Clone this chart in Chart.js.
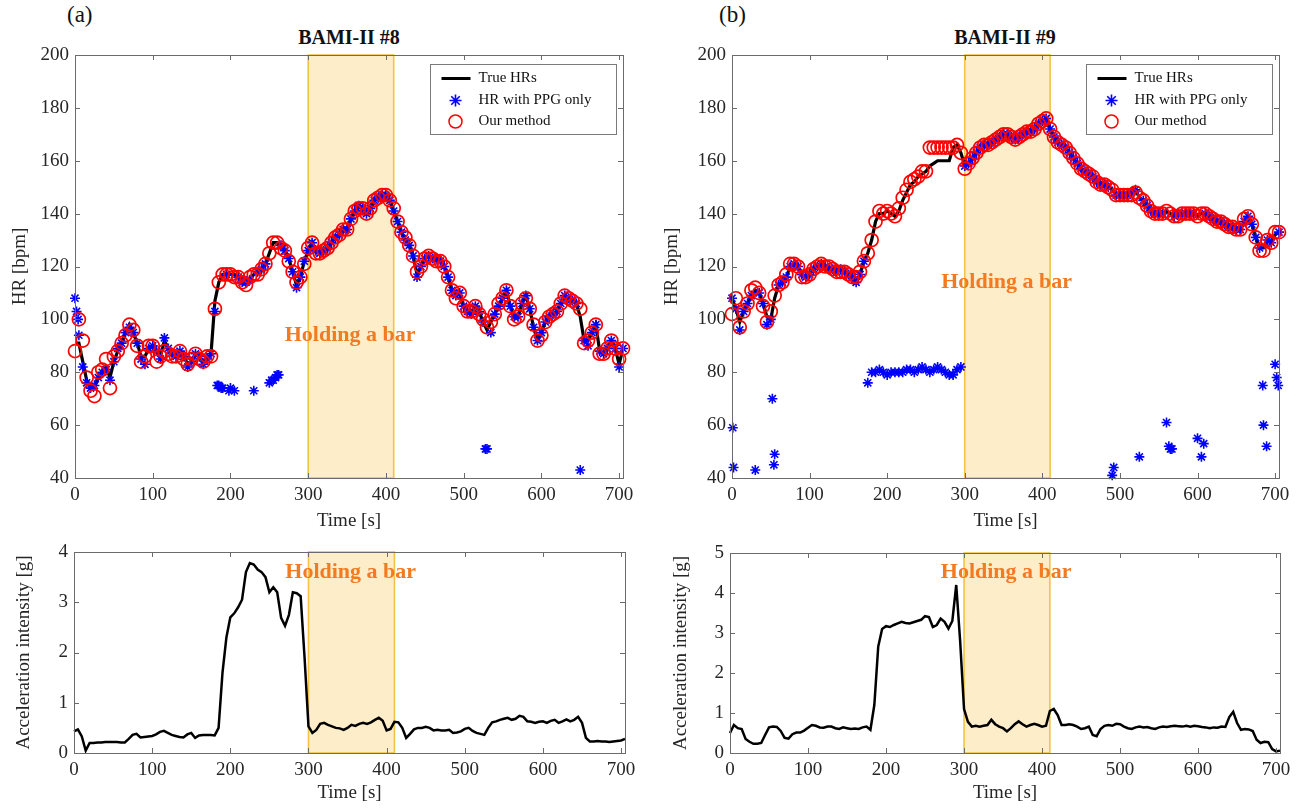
<!DOCTYPE html>
<html>
<head>
<meta charset="utf-8">
<script src="https://cdn.jsdelivr.net/npm/chart.js@4.4.0/dist/chart.umd.min.js"></script>
<style>
  body { margin: 0; background: #fff; width: 1301px; height: 808px; position: relative; overflow: hidden;
         font-family: "Liberation Serif", "Times New Roman", serif; color: #111; }
  canvas { position: absolute; }
  .tag { position: absolute; font-size: 23px; }
  .ttl { position: absolute; font-size: 20px; font-weight: bold; transform: translateX(-50%); white-space: nowrap; }
</style>
</head>
<body>
<div class="tag" style="left:67px;top:2px">(a)</div>
<div class="tag" style="left:719px;top:2px">(b)</div>
<div class="ttl" style="left:349px;top:26px">BAMI-II #8</div>
<div class="ttl" style="left:1005px;top:26px">BAMI-II #9</div>

<canvas id="hrA" width="650" height="533" style="left:0;top:0"></canvas>
<canvas id="hrB" width="651" height="533" style="left:650px;top:0"></canvas>
<canvas id="accA" width="650" height="275" style="left:0;top:533px"></canvas>
<canvas id="accB" width="651" height="275" style="left:650px;top:533px"></canvas>

<script>
// sample times [s], every 5 s
const TIME = [0,5,10,15,20,25,30,35,40,45,50,55,60,65,70,75,80,85,90,95,
  100,105,110,115,120,125,130,135,140,145,150,155,160,165,170,175,180,185,190,195,
  200,205,210,215,220,225,230,235,240,245,250,255,260,265,270,275,280,285,290,295,
  300,305,310,315,320,325,330,335,340,345,350,355,360,365,370,375,380,385,390,395,
  400,405,410,415,420,425,430,435,440,445,450,455,460,465,470,475,480,485,490,495,
  500,505,510,515,520,525,530,535,540,545,550,555,560,565,570,575,580,585,590,595,
  600,605,610,615,620,625,630,635,640,645,650,655,660,665,670,675,680,685,690,695,
  700,705];

const X_TICKS = [0,100,200,300,400,500,600,700];
const HR_TICKS = [40,60,80,100,120,140,160,180,200];
const ACC_TICKS_A = [0,1,2,3,4];
const ACC_TICKS_B = [0,1,2,3,4,5];
const HOLD = [300, 410];

// ---- BAMI-II #8 ----
const trueA = [91,91,84,77,75,74,78,80,82,78, 84,88,91,95,98,95,91,86,86,89,
  90,88,86,92,89,87,86,87,86,83, 84,87,86,84,85,87,107,114,117,117,
  117,117,116,115,114,115,117,118,119,121, 125,129,129,128,126,123,118,113,116,122,
  126,129,126,125,126,127,129,131,132,134, 134,138,141,143,142,140,142,145,146,147,
  147,145,141,137,133,130,128,124,117,120, 123,124,123,123,122,120,116,111,109,110,
  105,103,102,105,103,99,96,99,102,105, 108,111,105,101,101,106,109,104,97,92,
  95,99,101,102,103,106,109,108,107,106, 101,92,92,95,98,88,87,89,92,89,
  83,89];
const ppgA = [108,94,82,76,74,75,78,80,81,77, 84,89,91,95,97,95,91,85,83,89,
  90,88,85,93,89,87,86,88,86,82, 84,87,86,83,85,87,103,75,74,117,
  74,73,116,114,114,115,73,118,119,121, 76,77,79,128,126,123,118,112,116,122,
  126,129,126,125,126,127,129,131,132,134, 134,138,141,143,142,140,142,145,146,147,
  147,145,141,137,133,130,128,124,116,120, 123,124,123,123,122,120,116,111,109,110,
  105,103,102,105,103,99,51,95,102,105, 108,111,105,101,101,106,109,104,97,92,
  95,99,101,102,103,106,109,108,107,106, 43,92,90,95,98,88,87,89,92,89,
  82,89];
const ppgExtraTimeA = [2,4,183,188,198,253,258,262,528];
const ppgExtraHrA = [103,100,75,74,73,77,78,79,51];
const oursA = [88,100,92,78,73,71,80,81,85,74, 86,88,91,94,98,96,90,84,86,90,
  90,84,86,88,87,86,86,88,85,83, 85,87,85,84,86,86,104,114,117,117,
  117,116,116,114,113,116,117,117,119,121, 125,129,129,127,126,122,118,114,116,121,
  127,129,125,125,126,127,129,131,132,134, 134,138,141,142,142,140,142,145,146,147,
  147,145,142,137,133,131,128,124,118,120, 123,124,123,122,122,120,116,111,108,110,
  105,103,103,105,102,100,97,99,102,106, 108,111,105,100,101,106,108,104,98,92,
  94,99,101,102,103,106,109,108,107,106, 104,91,92,95,98,87,87,89,92,89,
  85,89];
const accA = [0.43,0.47,0.33,0.05,0.2,0.2,0.21,0.21,0.22,0.22, 0.22,0.22,0.21,0.21,0.28,0.36,0.38,0.31,0.32,0.33,
  0.34,0.37,0.42,0.44,0.4,0.36,0.34,0.32,0.31,0.37, 0.4,0.3,0.35,0.36,0.36,0.36,0.35,0.5,1.6,2.3,
  2.7,2.78,2.9,3.05,3.6,3.78,3.75,3.65,3.6,3.5, 3.2,3.3,3.2,2.69,2.53,2.75,3.2,3.18,3.12,1.9,
  0.53,0.4,0.46,0.58,0.6,0.56,0.53,0.5,0.49,0.46, 0.5,0.56,0.54,0.58,0.6,0.58,0.61,0.66,0.7,0.64,
  0.45,0.48,0.62,0.61,0.5,0.3,0.38,0.47,0.5,0.5, 0.52,0.5,0.45,0.46,0.45,0.45,0.46,0.4,0.41,0.43,
  0.48,0.5,0.44,0.4,0.38,0.36,0.5,0.61,0.63,0.66, 0.68,0.7,0.66,0.68,0.74,0.72,0.63,0.62,0.6,0.62,
  0.63,0.6,0.64,0.66,0.6,0.63,0.67,0.63,0.66,0.72, 0.6,0.3,0.23,0.23,0.24,0.23,0.23,0.22,0.23,0.24,
  0.25,0.28];

// ---- BAMI-II #9 ----
const trueB = [108,104,99,103,106,109,111,110,106,101, 100,108,113,114,116,120,121,120,117,116,
  117,119,120,121,120,119,119,118,119,118, 117,116,114,117,122,125,130,137,140,140,
  141,140,139,141,145,148,151,152,154,155, 156,158,159,160,160,160,160,165,166,163,
  158,159,161,163,165,166,166,167,168,169, 170,170,169,168,169,170,171,171,172,174,
  175,176,172,169,167,166,165,163,161,159, 157,156,155,154,152,151,151,150,149,147,
  147,147,147,148,149,146,145,143,141,140, 140,140,141,140,139,140,140,140,140,140,
  139,140,140,139,138,137,137,136,135,135, 134,134,137,139,136,131,127,127,130,129,
  132,133];
const ppgB = [108,104,96,103,106,109,43,110,106,98, 100,49,113,114,116,120,121,120,117,116,
  117,119,120,121,120,119,119,118,119,118, 117,116,114,117,122,76,80,80,81,80,
  79,80,80,80,80,81,81,80,81,82, 81,80,81,82,81,80,79,79,81,82,
  158,159,161,163,165,166,166,167,168,169, 170,170,169,168,169,170,171,171,172,174,
  175,176,172,169,167,166,165,163,161,159, 157,156,155,154,152,151,151,150,41,147,
  147,147,147,148,149,48,145,143,141,140, 140,140,61,51,139,140,140,140,140,140,
  55,48,140,139,138,137,137,136,135,135, 134,134,137,139,136,131,127,60,130,129,
  83,133];
const ppgExtraTimeB = [1,2,52,54,492,563,567,608,684,689,702,704];
const ppgExtraHrB = [59,44,70,45,44,52,51,53,75,52,78,75];
const oursB = [102,108,97,103,106,111,112,110,105,99, 103,109,113,114,117,121,121,120,116,116,
  117,119,120,121,120,120,119,118,118,118, 117,116,116,118,122,125,130,137,141,140,
  141,140,139,142,146,149,152,153,154,156, 156,165,165,165,165,165,165,165,166,163,
  157,159,161,163,165,166,166,167,168,169, 170,170,169,168,169,170,171,171,172,174,
  175,176,172,169,167,166,165,163,161,159, 157,156,155,154,152,151,151,150,149,147,
  147,147,147,147,148,146,145,143,141,140, 140,140,141,140,139,139,140,140,140,140,
  139,140,140,139,138,137,137,136,135,135, 134,134,138,139,136,131,126,126,130,129,
  133,133];
const accB = [0.5,0.7,0.62,0.6,0.35,0.28,0.23,0.23,0.25,0.45, 0.64,0.66,0.65,0.55,0.38,0.36,0.47,0.51,0.51,0.56,
  0.63,0.7,0.68,0.64,0.63,0.66,0.66,0.62,0.6,0.64, 0.62,0.6,0.61,0.6,0.64,0.66,0.58,1.2,2.66,3.1,
  3.17,3.15,3.2,3.24,3.28,3.25,3.24,3.27,3.3,3.33, 3.42,3.4,3.15,3.2,3.36,3.28,3.11,3.3,4.2,2.8,
  1.1,0.78,0.66,0.68,0.66,0.68,0.7,0.83,0.72,0.66, 0.62,0.54,0.62,0.72,0.79,0.72,0.66,0.7,0.73,0.7,
  0.66,0.68,1.05,1.1,0.95,0.7,0.7,0.72,0.7,0.66, 0.6,0.62,0.66,0.45,0.42,0.6,0.68,0.7,0.68,0.73,
  0.72,0.66,0.62,0.6,0.64,0.66,0.64,0.65,0.62,0.6, 0.64,0.66,0.65,0.67,0.68,0.67,0.66,0.68,0.66,0.68,
  0.67,0.65,0.64,0.62,0.64,0.63,0.66,0.65,0.9,1.03, 0.75,0.58,0.6,0.59,0.55,0.33,0.25,0.28,0.27,0.1,
  0.04,0.06];

const FONT = '"Liberation Serif", "Times New Roman", serif';
const INK = '#262626';
const AXIS = '#6b6b6b';
const NOTE = 'Holding a bar';

function pts(xs, ys) {
  return xs.map((x, i) => ({ x: x, y: ys[i] }));
}

function asterisk(ctx, x, y, r) {
  const d = r * Math.SQRT1_2;
  ctx.beginPath();
  ctx.moveTo(x - r, y); ctx.lineTo(x + r, y);
  ctx.moveTo(x, y - r); ctx.lineTo(x, y + r);
  ctx.moveTo(x - d, y - d); ctx.lineTo(x + d, y + d);
  ctx.moveTo(x - d, y + d); ctx.lineTo(x + d, y - d);
  ctx.stroke();
}

// MATLAB look: shaded interval, boxed axes with inward ticks, note text, legend
const matlabFrame = {
  id: 'matlabFrame',
  beforeDatasetsDraw(chart, args, o) {
    const { ctx, chartArea: a, scales: { x } } = chart;
    const x0 = x.getPixelForValue(HOLD[0]);
    const x1 = x.getPixelForValue(HOLD[1]);
    ctx.save();
    ctx.fillStyle = '#fdedc8';
    ctx.fillRect(x0, a.top, x1 - x0, a.bottom - a.top);
    ctx.strokeStyle = '#f1c445';
    ctx.lineWidth = 1.6;
    ctx.strokeRect(x0, a.top, x1 - x0, a.bottom - a.top);
    ctx.restore();
  },
  afterDatasetsDraw(chart, args, o) {
    const { ctx, chartArea: a, scales: { x, y } } = chart;
    ctx.save();
    // note
    ctx.font = 'bold 22px ' + FONT;
    ctx.fillStyle = '#f37a21';
    ctx.textAlign = 'center';
    ctx.textBaseline = 'middle';
    ctx.fillText(NOTE, x.getPixelForValue(o.note[0]), y.getPixelForValue(o.note[1]));

    // box + inward ticks
    ctx.strokeStyle = AXIS;
    ctx.lineWidth = 1;
    ctx.strokeRect(a.left + 0.5, a.top + 0.5, a.right - a.left, a.bottom - a.top);
    ctx.beginPath();
    x.ticks.forEach(t => {
      const px = Math.round(x.getPixelForValue(t.value)) + 0.5;
      ctx.moveTo(px, a.bottom); ctx.lineTo(px, a.bottom - 5);
      ctx.moveTo(px, a.top); ctx.lineTo(px, a.top + 5);
    });
    y.ticks.forEach(t => {
      const py = Math.round(y.getPixelForValue(t.value)) + 0.5;
      ctx.moveTo(a.left, py); ctx.lineTo(a.left + 5, py);
      ctx.moveTo(a.right, py); ctx.lineTo(a.right - 5, py);
    });
    ctx.stroke();

    // legend
    if (o.legend) {
      const w = 186, h = 70;
      const lx = Math.round(a.right - 7 - w) + 0.5, ly = Math.round(a.top + 9) + 0.5;
      ctx.fillStyle = '#fff';
      ctx.fillRect(lx, ly, w, h);
      ctx.strokeStyle = '#7a7a7a';
      ctx.strokeRect(lx, ly, w, h);
      const sx = lx + 25;
      ctx.strokeStyle = '#000';
      ctx.lineWidth = 3;
      ctx.beginPath(); ctx.moveTo(lx + 11, ly + 14); ctx.lineTo(lx + 40, ly + 14); ctx.stroke();
      ctx.strokeStyle = '#0000ff';
      ctx.lineWidth = 1.6;
      asterisk(ctx, sx, ly + 36, 6);
      ctx.strokeStyle = '#ff0000';
      ctx.lineWidth = 1.5;
      ctx.beginPath(); ctx.arc(sx, ly + 57, 6.5, 0, Math.PI * 2); ctx.stroke();
      ctx.font = '15px ' + FONT;
      ctx.fillStyle = '#111';
      ctx.textAlign = 'left';
      ctx.fillText('True HRs', lx + 48, ly + 14);
      ctx.fillText('HR with PPG only', lx + 48, ly + 36);
      ctx.fillText('Our method', lx + 48, ly + 57);
    }
    ctx.restore();
  }
};

function scales(yMin, yMax, yTicks, yTitle, yWidth, yTitlePad, xTitlePad) {
  return {
    x: {
      type: 'linear', min: 0, max: 705,
      afterBuildTicks: s => { s.ticks = X_TICKS.map(v => ({ value: v })); },
      afterFit: s => { s.height = 55; },
      grid: { display: false, drawTicks: false },
      border: { display: false },
      ticks: { color: INK, font: { family: FONT, size: 19 }, padding: 6, maxRotation: 0, autoSkip: false },
      title: { display: true, text: 'Time [s]', color: INK, font: { family: FONT, size: 19 },
               padding: { top: 0, bottom: xTitlePad } }
    },
    y: {
      min: yMin, max: yMax,
      afterBuildTicks: s => { s.ticks = yTicks.map(v => ({ value: v })); },
      afterFit: s => { s.width = yWidth; },
      grid: { display: false, drawTicks: false },
      border: { display: false },
      ticks: { color: INK, font: { family: FONT, size: 19 }, padding: 6, autoSkip: false },
      title: { display: true, text: yTitle, color: INK, font: { family: FONT, size: 19 },
               padding: { top: yTitlePad, bottom: 0 } }
    }
  };
}

function hrChart(id, trueHr, ppg, extraT, extraHr, ours, yWidth, padRight, yTitlePad, note) {
  return new Chart(document.getElementById(id), {
    type: 'scatter',
    data: {
      datasets: [
        { label: 'True HRs', data: pts(TIME, trueHr), showLine: true, borderColor: '#000',
          borderWidth: 3.2, pointRadius: 0, order: 3, clip: false },
        { label: 'HR with PPG only', data: pts(TIME, ppg).concat(pts(extraT, extraHr)),
          pointStyle: 'star', pointRadius: 5, borderColor: '#0000ff', backgroundColor: '#0000ff',
          borderWidth: 1.6, order: 2, clip: false },
        { label: 'Our method', data: pts(TIME, ours), pointStyle: 'circle', pointRadius: 6.5,
          borderColor: '#ff0000', backgroundColor: 'rgba(0,0,0,0)', borderWidth: 1.7, order: 1, clip: false }
      ]
    },
    options: {
      responsive: false,
      animation: false,
      events: [],
      layout: { padding: { left: 0, top: 55, right: padRight, bottom: 0 } },
      plugins: { legend: { display: false }, tooltip: { enabled: false },
                 matlabFrame: { note: note, legend: true } },
      scales: scales(40, 200, HR_TICKS, 'HR [bpm]', yWidth, yTitlePad, 1)
    },
    plugins: [matlabFrame]
  });
}

function accChart(id, acc, yMax, yTicks, yWidth, padTop, padRight, yTitlePad, note) {
  return new Chart(document.getElementById(id), {
    type: 'scatter',
    data: {
      datasets: [
        { label: 'Acceleration', data: pts(TIME, acc), showLine: true, borderColor: '#000',
          borderWidth: 2.5, pointRadius: 0, clip: false }
      ]
    },
    options: {
      responsive: false,
      animation: false,
      events: [],
      layout: { padding: { left: 0, top: padTop, right: padRight, bottom: 0 } },
      plugins: { legend: { display: false }, tooltip: { enabled: false },
                 matlabFrame: { note: note, legend: false } },
      scales: scales(0, yMax, yTicks, 'Acceleration intensity [g]', yWidth, yTitlePad, 4)
    },
    plugins: [matlabFrame]
  });
}

hrChart('hrA', trueA, ppgA, ppgExtraTimeA, ppgExtraHrA, oursA, 75, 27, 9, [354, 94]);
hrChart('hrB', trueB, ppgB, ppgExtraTimeB, ppgExtraHrB, oursB, 82, 22, 11, [354, 114]);
accChart('accA', accA, 4, ACC_TICKS_A, 74, 19, 25, 13, [354, 3.6]);
accChart('accB', accB, 5, ACC_TICKS_B, 80, 20, 21, 20, [354, 4.52]);
</script>
</body>
</html>
